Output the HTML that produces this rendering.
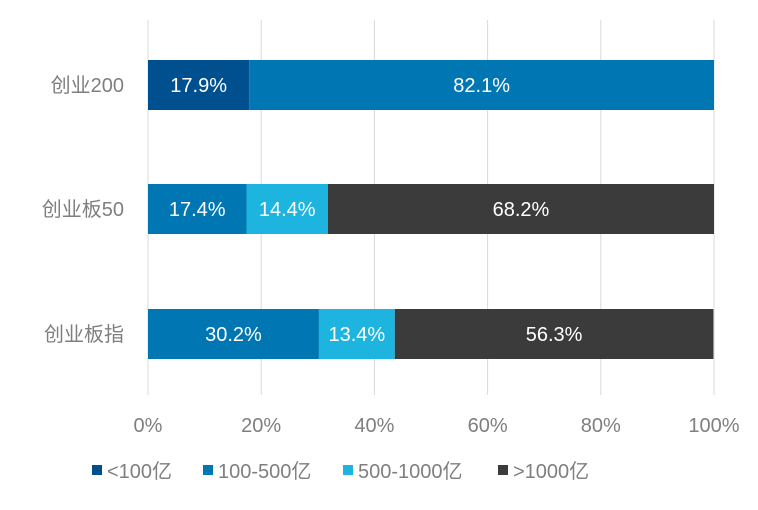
<!DOCTYPE html>
<html><head><meta charset="utf-8">
<style>
body{margin:0;background:#fff;}
svg text{font-family:"Liberation Sans","Noto Sans CJK SC",sans-serif;}
</style></head>
<body>
<svg id="chart" width="758" height="505"></svg>
<script>
const categories=["创业200","创业板50","创业板指"];
const seriesNames=["<100亿","100-500亿","500-1000亿",">1000亿"];
const s1=[17.9,0,0];
const s2=[82.1,17.4,30.2];
const s3=[0,14.4,13.4];
const s4=[0,68.2,56.3];
const ticks=[0,20,40,60,80,100];
const colors=["#00508f","#0076b3","#1db5e0","#3b3b3b"];
const NS="http://www.w3.org/2000/svg";
const svg=document.getElementById("chart");
const x0=148,x1=714;
const xs=v=>x0+(x1-x0)*v/100;
const rowY=[85,209,334], barH=50;
function mk(t,a){const e=document.createElementNS(NS,t);for(const k in a)e.setAttribute(k,a[k]);svg.appendChild(e);return e;}
ticks.forEach((t,i)=>{
  const g=mk("line",{x1:xs(t),x2:xs(t),y1:20,y2:395,stroke:"#d9d9d9","stroke-width":1});
  
  
  const l=mk("text",{x:xs(t),y:432,"text-anchor":"middle","font-size":20,fill:"#7f7f7f"});
  l.textContent=t+"%";
  
  
});
const series=[s1,s2,s3,s4];
categories.forEach((c,i)=>{
  const l=mk("text",{x:124,y:rowY[i]+7,"text-anchor":"end","font-size":20,fill:"#7f7f7f"});
  l.textContent=c;
  
  
  let acc=0;
  series.forEach((s,j)=>{
    const v=s[i]; if(!v) return;
    const r=mk("rect",{x:xs(acc),y:rowY[i]-barH/2,width:xs(acc+v)-xs(acc),height:barH,fill:colors[j]});
    
    
    const t=mk("text",{x:(xs(acc)+xs(acc+v))/2,y:rowY[i]+7,"text-anchor":"middle","font-size":20,fill:"#fff"});
    t.textContent=v.toFixed(1)+"%";
    
    
    acc+=v;
  });
});
const legX=[92,203,343,498];
seriesNames.forEach((n,j)=>{
  const r=mk("rect",{x:legX[j],y:465,width:10,height:10,fill:colors[j]});
  
  
  const t=mk("text",{x:legX[j]+15,y:478,"font-size":20,fill:"#7f7f7f"});
  t.textContent=n;
  
  
});
</script>
</body></html>
